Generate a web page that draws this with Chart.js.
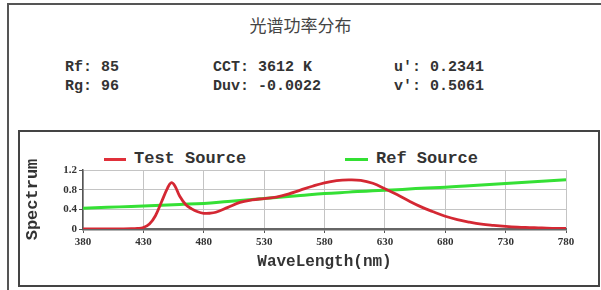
<!DOCTYPE html>
<html>
<head>
<meta charset="utf-8">
<script src="https://cdn.jsdelivr.net/npm/chart.js@4"></script>
<style>
  html, body { margin:0; padding:0; background:#fff; width:601px; height:290px; overflow:hidden; }
  .abs { position:absolute; }
  .mono { font-family:"Liberation Mono","DejaVu Sans Mono",monospace; font-weight:bold; color:#333; white-space:pre; }
  #outer { left:7px; top:3px; width:620px; height:300px; border:2px solid #555; box-sizing:border-box; }
  #inner { left:18px; top:130px; width:582px; height:157px; border:2px solid #444; box-sizing:border-box; }
  #title { left:0; width:601px; top:13px; text-align:center; font-family:"Noto Sans CJK SC"; font-size:17px; color:#444; line-height:24px; }
  .stat { font-size:15px; line-height:18px; }
  .leg { font-size:17px; line-height:20px; }
  .legline { height:3px; }
  #wrap { left:20px; top:133px; width:578px; height:152px; }
</style>
</head>
<body>
<div id="outer" class="abs"></div>
<div id="inner" class="abs"></div>
<div id="title" class="abs">光谱功率分布</div>

<div class="abs mono stat" style="left:65px;top:59px;">Rf: 85</div>
<div class="abs mono stat" style="left:65px;top:78px;">Rg: 96</div>
<div class="abs mono stat" style="left:213px;top:59px;">CCT: 3612 K</div>
<div class="abs mono stat" style="left:213px;top:78px;">Duv: -0.0022</div>
<div class="abs mono stat" style="left:394px;top:59px;">u': 0.2341</div>
<div class="abs mono stat" style="left:394px;top:78px;">v': 0.5061</div>

<div class="abs legline" style="left:104px;top:158px;width:22px;background:#e0303a;"></div>
<div class="abs mono leg" style="left:134px;top:149px;">Test Source</div>
<div class="abs legline" style="left:345px;top:158px;width:23px;background:#33e033;"></div>
<div class="abs mono leg" style="left:376px;top:149px;">Ref Source</div>

<div id="wrap" class="abs"><canvas id="c" width="578" height="152"></canvas></div>

<script>
// Wavelength ticks
const xTicks = [380, 430, 480, 530, 580, 630, 680, 730, 780];
const yTicks = [0, 0.4, 0.8, 1.2];

// Test Source spectrum (wavelength nm, relative value)
const testWl = [380, 390, 400, 410, 420, 425, 430, 435, 440, 445, 450, 453, 456, 460, 465, 470, 475, 480, 485, 490, 500, 510, 520, 530, 540, 550, 560, 570, 580, 590, 600, 610, 620, 630, 640, 650, 660, 670, 680, 690, 700, 710, 720, 730, 740, 750, 760, 770, 780];
const testVal = [0.0, 0.0, 0.0, 0.003, 0.006, 0.012, 0.03, 0.1, 0.27, 0.55, 0.83, 0.94, 0.88, 0.67, 0.5, 0.41, 0.35, 0.32, 0.32, 0.34, 0.44, 0.54, 0.59, 0.62, 0.65, 0.71, 0.79, 0.87, 0.94, 0.985, 1.0, 0.99, 0.93, 0.82, 0.7, 0.57, 0.45, 0.35, 0.26, 0.19, 0.14, 0.1, 0.075, 0.055, 0.04, 0.03, 0.02, 0.014, 0.01];

// Reference Source spectrum
const refWl = [380, 400, 420, 440, 460, 480, 500, 520, 540, 560, 580, 600, 620, 640, 660, 680, 700, 720, 740, 760, 780];
const refVal = [0.42, 0.44, 0.46, 0.48, 0.50, 0.52, 0.56, 0.60, 0.64, 0.68, 0.72, 0.75, 0.78, 0.80, 0.83, 0.85, 0.88, 0.91, 0.94, 0.97, 1.0];

const testData = testWl.map((x, i) => ({x, y: testVal[i]}));
const refData = refWl.map((x, i) => ({x, y: refVal[i]}));

new Chart(document.getElementById('c'), {
  type: 'line',
  data: {
    datasets: [
      { label: 'Test Source', data: testData, borderColor: '#d42833', borderWidth: 2.8, pointRadius: 0, tension: 0.4, fill: false },
      { label: 'Ref Source', data: refData, borderColor: '#35e035', borderWidth: 3, pointRadius: 0, tension: 0.4, fill: false }
    ]
  },
  options: {
    responsive: false,
    animation: false,
    layout: { padding: { top: 37, right: 32, left: 0, bottom: 0 } },
    plugins: { legend: { display: false }, tooltip: { enabled: false } },
    scales: {
      x: {
        type: 'linear', min: 380, max: 780,
        afterBuildTicks: s => { s.ticks = xTicks.map(v => ({value: v})); },
        afterFit: s => { s.height = 56; },
        ticks: { padding: 3, maxRotation: 0, autoSkip: false, color: '#333', font: { family: 'Liberation Serif', weight: 'bold', size: 11 } },
        grid: { color: '#c4c4c4', tickLength: 4, tickColor: '#555' },
        border: { color: '#666', width: 2.5 },
        title: { display: true, text: 'WaveLength(nm)', color: '#333', padding: { top: 0, bottom: 13 }, font: { family: 'Liberation Mono', weight: 'bold', size: 16 } }
      },
      y: {
        min: 0, max: 1.2,
        afterBuildTicks: s => { s.ticks = yTicks.map(v => ({value: v})); },
        afterFit: s => { s.width = 63; },
        ticks: { padding: 2, color: '#333', font: { family: 'Liberation Serif', weight: 'bold', size: 11 }, callback: v => String(Math.round(v * 10) / 10) },
        grid: { color: '#c4c4c4', tickLength: 4, tickColor: '#555' },
        border: { color: '#555', width: 1.5 },
        title: { display: true, text: 'Spectrum', color: '#333', padding: { top: 3, bottom: 0 }, font: { family: 'Liberation Mono', weight: 'bold', size: 17 } }
      }
    }
  }
});
</script>
</body>
</html>
